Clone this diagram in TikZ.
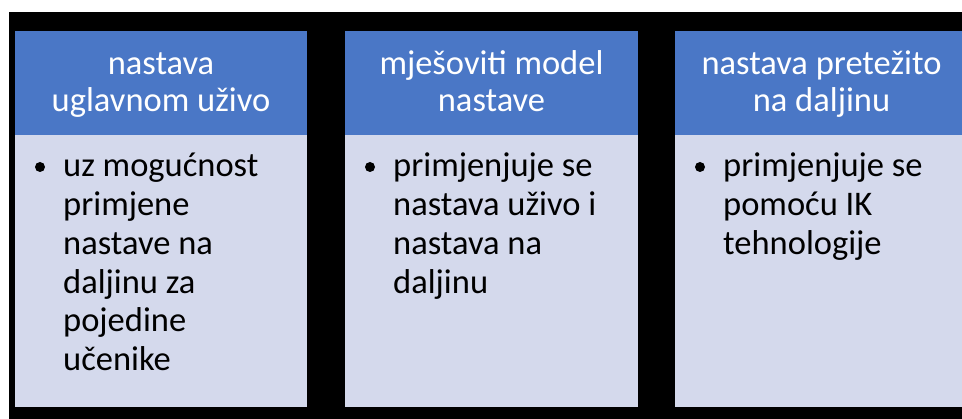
\documentclass[tikz,border=0pt]{standalone}
\usepackage{fontspec}
\setmainfont{Carlito}
\definecolor{hdrblue}{HTML}{4A77C6}
\definecolor{bodylav}{HTML}{D4D9EC}
\begin{document}
\begin{tikzpicture}[x=1pt,y=-1pt,
  hdrbox/.style={fill=hdrblue, inner sep=0pt, anchor=north west, minimum height=104pt},
  bodybox/.style={fill=bodylav, inner sep=0pt, anchor=north west, minimum height=272pt},
  htext/.style={text=white, inner sep=0pt, anchor=base, align=center, font=\fontsize{34.5}{36.5}\selectfont},
  btext/.style={text=black, inner sep=0pt, anchor=base west, align=left, font=\fontsize{34.5}{38.7}\selectfont},
  bul/.style={circle, fill=black, inner sep=0pt, minimum size=10pt}]
\useasboundingbox (0,0) rectangle (962,419);
\fill[white] (0,0) rectangle (962,419);
\fill[black] (9,12) rectangle (962,419);
\begin{scope}
\clip (0,0) rectangle (962,419);
% column 1
\node[hdrbox, minimum width=292pt] (h1) at (15,31) {};
\node[bodybox, minimum width=292pt] (g1) at (15,135) {};
\node[htext] (ht1) at (161,111.5) {nastava\\uglavnom uživo};
\node[bul] (b1) at (40,167) {};
\node[btext] (bt1) at (63,370.5) {uz mogućnost\\primjene\\nastave na\\daljinu za\\pojedine\\učenike};
% column 2
\node[hdrbox, minimum width=293pt] (h2) at (345,31) {};
\node[bodybox, minimum width=293pt] (g2) at (345,135) {};
\node[htext] (ht2) at (491.5,111.5) {mješoviti model\\nastave};
\node[bul] (b2) at (370,167) {};
\node[btext] (bt2) at (393,293.1) {primjenjuje se\\nastava uživo i\\nastava na\\daljinu};
% column 3
\node[hdrbox, minimum width=293pt] (h3) at (675,31) {};
\node[bodybox, minimum width=293pt] (g3) at (675,135) {};
\node[htext] (ht3) at (821.5,111.5) {nastava pretežito\\na daljinu};
\node[bul] (b3) at (700,167) {};
\node[btext] (bt3) at (723,254.4) {primjenjuje se\\pomoću IK\\tehnologije};
\end{scope}
\end{tikzpicture}
\end{document}
